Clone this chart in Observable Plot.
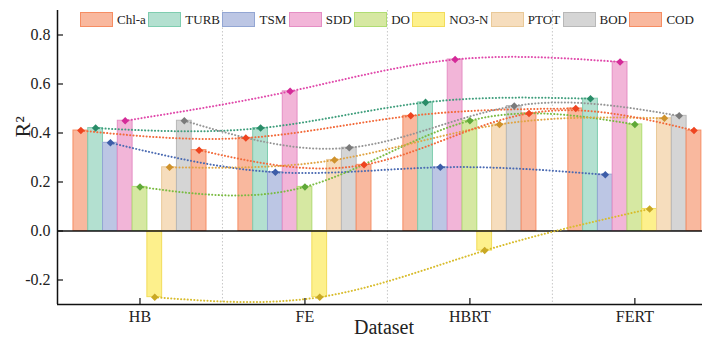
<!DOCTYPE html>
<html><head><meta charset="utf-8">
<script src="https://cdn.jsdelivr.net/npm/d3@7"></script>
<script src="https://cdn.jsdelivr.net/npm/@observablehq/plot@0.6"></script>
<style>
body{margin:0;background:#fff;}
#wrap{position:relative;width:702px;height:345px;}
#legend{position:absolute;left:80px;top:12px;width:614px;display:flex;justify-content:space-between;font:13px "Liberation Serif",serif;color:#222;z-index:2;}
.item{display:flex;align-items:center;height:15px;}
.sw{width:31px;height:13px;border:1px solid;margin-right:4px;box-sizing:content-box;}
svg text{font-family:"Liberation Serif",serif;}
</style></head><body><div id="wrap"><div id="legend"></div></div>
<script>
const datasets = ["HB", "FE", "HBRT", "FERT"];
const variables = ["Chl-a", "TURB", "TSM", "SDD", "DO", "NO3-N", "PTOT", "BOD", "COD"];
// R² per variable across datasets HB, FE, HBRT, FERT
const chla = [0.41, 0.38, 0.47, 0.50];
const turb = [0.42, 0.42, 0.525, 0.54];
const tsm  = [0.36, 0.24, 0.26, 0.23];
const sdd  = [0.45, 0.57, 0.70, 0.69];
const dox  = [0.18, 0.18, 0.45, 0.435];
const no3n = [-0.27, -0.27, -0.08, 0.09];
const ptot = [0.26, 0.29, 0.435, 0.46];
const bod  = [0.45, 0.34, 0.51, 0.47];
const cod  = [0.33, 0.27, 0.48, 0.41];
const series = [chla, turb, tsm, sdd, dox, no3n, ptot, bod, cod];
const yTicks = [-0.2, 0.0, 0.2, 0.4, 0.6, 0.8];

const fillColors   = ["#f9b89e", "#b3e0d0", "#bcc6e4", "#f2b5d8", "#d6e8a2", "#fdf08c", "#f6ddbd", "#d5d5d5", "#f9b89e"];
const strokeColors = ["#f68d63", "#7fcdb0", "#93a6d3", "#e58ec4", "#b0dc73", "#f2dc5a", "#e9c998", "#b8b8b8", "#f68d63"];
const markerColors = ["#ee4420", "#2a8c68", "#3d5da8", "#d42a98", "#5fa838", "#c9a824", "#cf922c", "#7a7a7a", "#ee4420"];
const lineColors   = ["#f26a3a", "#3f9e7c", "#4a6ab2", "#e048aa", "#7abb42", "#d8bc2c", "#e0a444", "#959595", "#f26a3a"];

const rows = [];
datasets.forEach((ds, gi) => variables.forEach((v, vi) => rows.push({dataset: ds, gi, variable: v, vi, value: series[vi][gi]})));

const bw = 0.0896; // bar width in group units
const xDomain = [-0.5, 3.41];
const yDomain = [-0.3, 0.9];
const center = d => d.gi + (d.vi - 4) * bw;
const serif = "Liberation Serif";

const chart = Plot.plot({
  width: 702, height: 345,
  marginLeft: 57, marginRight: 0, marginTop: 10, marginBottom: 41,
  x: {domain: xDomain},
  y: {domain: yDomain},
  color: {type: "identity"},
  style: {fontFamily: "'Liberation Serif', serif", fontSize: "16px", background: "#fff", color: "#222"},
  marks: [
    Plot.ruleX(datasets.slice(1).map((d, i) => i + 0.5), {stroke: "#c8c8c8", strokeDasharray: "1.5,2", strokeWidth: 1}),
    Plot.rectY(rows, {x1: d => d.gi + (d.vi - 4.5) * bw, x2: d => d.gi + (d.vi - 3.5) * bw, y1: 0, y2: "value",
      fill: d => fillColors[d.vi], stroke: d => strokeColors[d.vi], strokeWidth: 1}),
    Plot.ruleY([0], {stroke: "#111", strokeWidth: 1.3}),
    Plot.ruleY([yDomain[0]], {stroke: "#111", strokeWidth: 1.5}),
    Plot.ruleX([xDomain[0]], {stroke: "#111", strokeWidth: 1.5}),
    Plot.line(rows, {x: center, y: "value", z: "variable", stroke: d => lineColors[d.vi], curve: "natural",
      strokeWidth: 2, strokeDasharray: "0.1,3.2", strokeLinecap: "round"}),
    Plot.dot(rows, {x: center, y: "value", symbol: "diamond2", r: 3.4, fill: d => markerColors[d.vi], stroke: "none"}),
    Plot.axisY({ticks: yTicks, tickFormat: d => d.toFixed(1), tickSize: -6, tickPadding: 13, label: null, fontSize: 16, fontFamily: serif, fill: "#222", stroke: "#111", strokeWidth: 1.2}),
    Plot.axisX({ticks: datasets.map((d, i) => i), tickFormat: i => datasets[i], tickSize: -6, tickPadding: 12, label: null, fontSize: 16, fontFamily: serif, fill: "#222", stroke: "#111", strokeWidth: 1.2}),
    Plot.text(["R²"], {text: d => d, frameAnchor: "left", dx: -35, dy: -20, rotate: -90, fontSize: 22, fontFamily: serif, fill: "#222"}),
    Plot.text(["Dataset"], {text: d => d, frameAnchor: "bottom", dx: 4, dy: 29, fontSize: 20, fontFamily: serif, fill: "#222"})
  ]
});
document.getElementById("wrap").appendChild(chart);

const legend = document.getElementById("legend");
variables.forEach((v, i) => {
  const item = document.createElement("div");
  item.className = "item";
  const sw = document.createElement("span");
  sw.className = "sw";
  sw.style.background = fillColors[i];
  sw.style.borderColor = strokeColors[i];
  const t = document.createElement("span");
  t.textContent = v;
  item.appendChild(sw); item.appendChild(t);
  legend.appendChild(item);
});
</script></body></html>
